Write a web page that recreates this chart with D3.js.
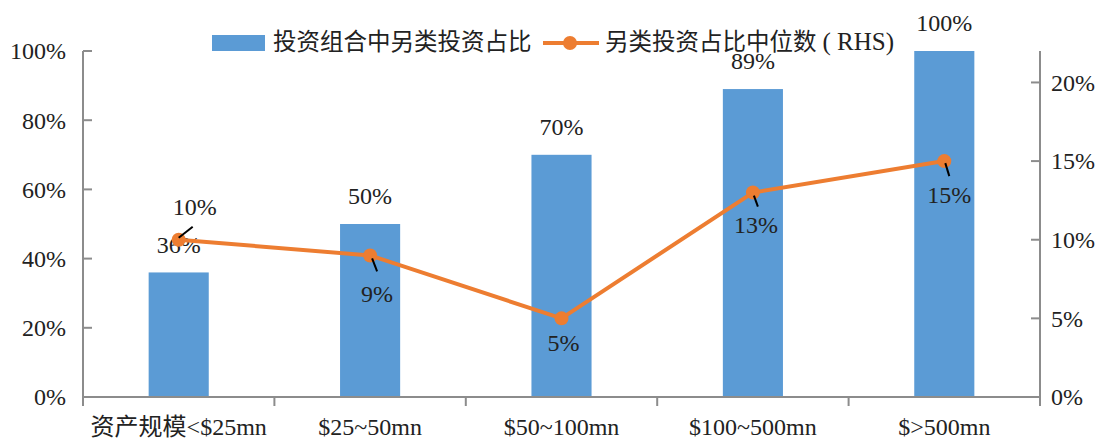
<!DOCTYPE html>
<html>
<head>
<meta charset="utf-8">
<script src="https://cdn.jsdelivr.net/npm/d3@7"></script>
<style>
  body { margin: 0; background: #fff; }
  text { font-family: "Liberation Serif", "Noto Sans CJK SC", serif; fill: #222; }
  .cjk { font-family: "Noto Sans CJK SC", sans-serif; }
</style>
</head>
<body>
<svg id="chart" width="1101" height="439"></svg>
<script>
// chart data
var categories = ["资产规模<$25mn", "$25~50mn", "$50~100mn", "$100~500mn", "$>500mn"];
var barValues = [0.36, 0.50, 0.70, 0.89, 1.00];
var lineValues = [0.10, 0.09, 0.05, 0.13, 0.15];
var leftTicks = [0, 0.2, 0.4, 0.6, 0.8, 1.0];
var rightTicks = [0, 0.05, 0.10, 0.15, 0.20];
var seriesNames = ["投资组合中另类投资占比", "另类投资占比中位数", "( RHS)"];

var plotLeft = 83, plotRight = 1040, plotTop = 51, plotBottom = 397;
var blue = "#5B9BD5", orange = "#ED7D31", axisColor = "#8c8c8c";
var fs = "24px";

var svg = d3.select("#chart");

var x = d3.scaleBand().domain(categories).range([plotLeft, plotRight]).paddingInner(0.686).paddingOuter(0.343);
var yL = d3.scaleLinear().domain([0, 1]).range([plotBottom, plotTop]);
var yR = d3.scaleLinear().domain([0, 0.22]).range([plotBottom, plotTop]);
var pct = d3.format(".0%");

// bars
svg.selectAll(".bar")
  .data(barValues)
  .enter().append("rect")
  .attr("class", "bar")
  .attr("x", function(d, i) { return x(categories[i]); })
  .attr("width", x.bandwidth())
  .attr("y", function(d) { return yL(d); })
  .attr("height", function(d) { return plotBottom - yL(d); })
  .attr("fill", blue);

// axes
var axes = svg.append("g").attr("stroke", axisColor).attr("stroke-width", 2);
axes.append("line").attr("x1", plotLeft).attr("x2", plotLeft).attr("y1", plotTop).attr("y2", plotBottom + 9);
axes.append("line").attr("x1", plotRight).attr("x2", plotRight).attr("y1", plotTop).attr("y2", plotBottom + 9);
axes.append("line").attr("x1", plotLeft).attr("x2", plotRight).attr("y1", plotBottom).attr("y2", plotBottom);

var step = (plotRight - plotLeft) / categories.length;
axes.selectAll(".xt")
  .data(d3.range(1, categories.length))
  .enter().append("line")
  .attr("x1", function(d) { return plotLeft + d * step; })
  .attr("x2", function(d) { return plotLeft + d * step; })
  .attr("y1", plotBottom).attr("y2", plotBottom + 9);

axes.selectAll(".lt")
  .data(leftTicks)
  .enter().append("line")
  .attr("x1", plotLeft).attr("x2", plotLeft + 9)
  .attr("y1", function(d) { return yL(d); })
  .attr("y2", function(d) { return yL(d); });

axes.selectAll(".rt")
  .data(rightTicks)
  .enter().append("line")
  .attr("x1", plotRight - 9).attr("x2", plotRight)
  .attr("y1", function(d) { return yR(d); })
  .attr("y2", function(d) { return yR(d); });

// tick labels
svg.selectAll(".ll")
  .data(leftTicks)
  .enter().append("text")
  .attr("x", 66)
  .attr("y", function(d) { return yL(d); })
  .attr("dy", "0.35em")
  .attr("text-anchor", "end")
  .style("font-size", fs)
  .text(pct);

svg.selectAll(".rl")
  .data(rightTicks)
  .enter().append("text")
  .attr("x", 1051)
  .attr("y", function(d) { return yR(d); })
  .attr("dy", "0.35em")
  .style("font-size", fs)
  .text(pct);

svg.selectAll(".xl")
  .data(categories)
  .enter().append("text")
  .attr("x", function(d) { return x(d) + x.bandwidth() / 2; })
  .attr("y", 427)
  .attr("dy", "0.35em")
  .attr("text-anchor", "middle")
  .style("font-size", fs)
  .text(function(d) { return d; });

// bar labels
svg.selectAll(".bl")
  .data(barValues)
  .enter().append("text")
  .attr("x", function(d, i) { return x(categories[i]) + x.bandwidth() / 2; })
  .attr("y", function(d) { return yL(d) - 28; })
  .attr("dy", "0.35em")
  .attr("text-anchor", "middle")
  .style("font-size", fs)
  .text(pct);

// line series
var cx = function(i) { return x(categories[i]) + x.bandwidth() / 2; };
var line = d3.line()
  .x(function(d, i) { return cx(i); })
  .y(function(d) { return yR(d); });

svg.append("path")
  .datum(lineValues)
  .attr("d", line)
  .attr("fill", "none")
  .attr("stroke", orange)
  .attr("stroke-width", 4);

svg.selectAll(".pt")
  .data(lineValues)
  .enter().append("circle")
  .attr("cx", function(d, i) { return cx(i); })
  .attr("cy", function(d) { return yR(d); })
  .attr("r", 7)
  .attr("fill", orange);

// line labels with leader lines (offsets)
var labelOffsets = [[16, -33], [7, 38], [2, 24], [3, 32], [5, 34]];
var leaders = [[[0, -2], [14, -13]], [[2, 3], [7, 16]], null, [[1, 3], [5, 14]], [[1, 2], [5, 15]]];

lineValues.forEach(function(d, i) {
  var px = cx(i), py = yR(d);
  if (leaders[i]) {
    svg.append("line")
      .attr("x1", px + leaders[i][0][0]).attr("y1", py + leaders[i][0][1])
      .attr("x2", px + leaders[i][1][0]).attr("y2", py + leaders[i][1][1])
      .attr("stroke", "#000").attr("stroke-width", 2);
  }
  svg.append("text")
    .attr("x", px + labelOffsets[i][0])
    .attr("y", py + labelOffsets[i][1])
    .attr("dy", "0.35em")
    .attr("text-anchor", "middle")
    .style("font-size", fs)
    .text(pct(d));
});

// legend
var lg = svg.append("g");
lg.append("rect").attr("x", 212).attr("y", 35).attr("width", 53).attr("height", 16).attr("fill", blue);
lg.append("text").attr("class", "cjk").attr("x", 273).attr("y", 42).attr("dy", "0.35em")
  .style("font-size", "23.5px").text(seriesNames[0]);
lg.append("line").attr("x1", 543).attr("x2", 599).attr("y1", 43).attr("y2", 43)
  .attr("stroke", orange).attr("stroke-width", 4);
lg.append("circle").attr("cx", 570).attr("cy", 43).attr("r", 7).attr("fill", orange);
var lt = lg.append("text").attr("x", 605).attr("y", 42).attr("dy", "0.35em").style("font-size", "23.5px");
lt.append("tspan").attr("class", "cjk").text(seriesNames[1]);
lt.append("tspan").attr("dx", 6).style("font-size", "25px").text(seriesNames[2]);
</script>
</body>
</html>
